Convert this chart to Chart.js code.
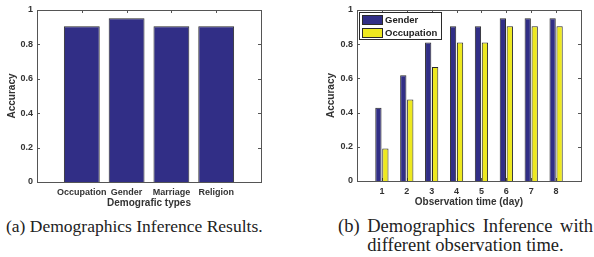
<!DOCTYPE html>
<html>
<head>
<meta charset="utf-8">
<script src="https://cdn.jsdelivr.net/npm/chart.js@4/dist/chart.umd.min.js"></script>
<style>
  html, body { margin: 0; padding: 0; background: #fff; }
  body { width: 594px; height: 257px; position: relative; overflow: hidden; }
  .box { position: absolute; top: 0; height: 215px; }
  .cap { position: absolute; font-family: "Liberation Serif", "Times New Roman", serif;
         font-size: 17.5px; color: #222; white-space: nowrap; line-height: 20px; }
</style>
</head>
<body>
<div class="box" style="left:0;width:297px"><canvas id="typesChart" width="297" height="215"></canvas></div>
<div class="box" style="left:300px;width:294px"><canvas id="timeChart" width="294" height="215"></canvas></div>
<div class="cap" style="left:6px;top:216px">(a) Demographics Inference Results.</div>
<div class="cap" style="left:338px;top:216px;width:255px;font-size:18.5px;text-align:justify;text-align-last:justify">(b) Demographics Inference with</div>
<div class="cap" style="left:338px;top:235px;width:255px;font-size:18.5px;text-align:center">different observation time.</div>
<script>
const demoTypes = ["Occupation", "Gender", "Marriage", "Religion"];
const demoAccuracy = [0.905, 0.952, 0.905, 0.905];

const days = ["1", "2", "3", "4", "5", "6", "7", "8"];
const genderAccuracy = [0.429, 0.619, 0.81, 0.905, 0.905, 0.952, 0.952, 0.952];
const occupationAccuracy = [0.19, 0.476, 0.667, 0.81, 0.81, 0.905, 0.905, 0.905];

const yTicks = [0, 0.2, 0.4, 0.6, 0.8, 1];

const NAVY = "#312e86";
const YELLOW = "#eee91f";
const EDGE = "#2a2a2a";
const AXIS = "#555";
const TEXT = "#333";

// matlab style box with inward ticks
const boxAxes = {
  id: "boxAxes",
  beforeDatasetsDraw(chart) {
    const { ctx, chartArea: a, scales } = chart;
    ctx.save();
    ctx.strokeStyle = AXIS;
    ctx.lineWidth = 1;
    ctx.beginPath();
    scales.y.ticks.forEach((t) => {
      const y = Math.round(scales.y.getPixelForValue(t.value)) + 0.5;
      ctx.moveTo(a.left, y); ctx.lineTo(a.left + 3, y);
      ctx.moveTo(a.right, y); ctx.lineTo(a.right - 3, y);
    });
    scales.x.ticks.forEach((t) => {
      const x = Math.round(scales.x.getPixelForValue(t.value)) + 0.5;
      ctx.moveTo(x, a.top); ctx.lineTo(x, a.top + 3);
      ctx.moveTo(x, a.bottom); ctx.lineTo(x, a.bottom - 3);
    });
    ctx.stroke();
    ctx.restore();
  },
  afterDatasetsDraw(chart) {
    const { ctx, chartArea: a } = chart;
    ctx.save();
    ctx.strokeStyle = AXIS;
    ctx.lineWidth = 1;
    ctx.strokeRect(Math.round(a.left) + 0.5, Math.round(a.top) + 0.5,
      Math.round(a.right - a.left), Math.round(a.bottom - a.top));
    ctx.restore();
  },
};

// legend box in the upper left of the plot
const insideLegend = {
  id: "insideLegend",
  afterDraw(chart) {
    const { ctx, chartArea: a } = chart;
    const x0 = Math.round(a.left) + 2, y0 = Math.round(a.top) + 2;
    ctx.save();
    ctx.fillStyle = "#fff";
    ctx.fillRect(x0, y0, 82, 27);
    ctx.strokeStyle = EDGE;
    ctx.lineWidth = 1;
    ctx.strokeRect(x0 + 0.5, y0 + 0.5, 82, 27);
    ctx.font = "bold 9.5px 'Liberation Sans', Arial, sans-serif";
    ctx.textBaseline = "middle";
    chart.data.datasets.forEach((ds, i) => {
      const sy = y0 + 3 + i * 13;
      ctx.fillStyle = ds.backgroundColor;
      ctx.fillRect(x0 + 3.5, sy + 0.5, 20, 9);
      ctx.strokeStyle = EDGE;
      ctx.strokeRect(x0 + 3.5, sy + 0.5, 20, 9);
      ctx.fillStyle = "#222";
      ctx.fillText(ds.label, x0 + 26, sy + 5.5);
    });
    ctx.restore();
  },
};

const tickFont = { family: "'Liberation Sans', Arial, sans-serif", size: 9, weight: "bold" };
const titleFont = { family: "'Liberation Sans', Arial, sans-serif", size: 10, weight: "bold" };

function yScale(width, titlePad) {
  return {
    min: 0,
    max: 1,
    afterBuildTicks: (s) => { s.ticks = yTicks.map((v) => ({ value: v })); },
    afterFit: (s) => { s.width = width; },
    border: { display: false },
    grid: { display: false, drawTicks: false },
    ticks: { font: tickFont, color: TEXT, padding: 4, callback: (v) => String(+v.toFixed(1)) },
    title: { display: true, text: "Accuracy", font: titleFont, color: TEXT, padding: { top: titlePad } },
  };
}

function xScale(labels, titleText) {
  return {
    type: "linear",
    offset: false,
    min: 0,
    max: labels.length + 1,
    afterBuildTicks: (s) => { s.ticks = labels.map((l, i) => ({ value: i + 1 })); },
    afterFit: (s) => { s.height = 33; },
    border: { display: false },
    grid: { display: false, drawTicks: false, offset: false },
    ticks: {
      font: tickFont, color: TEXT, padding: 5, autoSkip: false,
      maxRotation: 0, minRotation: 0,
      callback: (v) => labels[v - 1] || "",
    },
    title: { display: true, text: titleText, font: titleFont, color: TEXT, padding: { bottom: 6 } },
  };
}

const common = {
  responsive: false,
  animation: false,
  plugins: { legend: { display: false }, tooltip: { enabled: false } },
};

new Chart(document.getElementById("typesChart"), {
  type: "bar",
  data: {
    datasets: [{
      label: "Accuracy",
      data: demoAccuracy.map((v, i) => ({ x: i + 1, y: v })),
      backgroundColor: NAVY,
      borderColor: EDGE,
      borderWidth: 1,
      categoryPercentage: 0.8,
      barPercentage: 1,
    }],
  },
  options: {
    ...common,
    layout: { padding: { top: 10, right: 36, left: 0, bottom: 0 } },
    scales: { x: xScale(demoTypes, "Demografic types"), y: yScale(37, 6) },
  },
  plugins: [boxAxes],
});

new Chart(document.getElementById("timeChart"), {
  type: "bar",
  data: {
    datasets: [
      {
        label: "Gender",
        data: genderAccuracy.map((v, i) => ({ x: i + 1, y: v })),
        backgroundColor: NAVY,
      },
      {
        label: "Occupation",
        data: occupationAccuracy.map((v, i) => ({ x: i + 1, y: v })),
        backgroundColor: YELLOW,
      },
    ].map((d) => ({ ...d, borderColor: EDGE, borderWidth: 1, categoryPercentage: 0.56, barPercentage: 0.9 })),
  },
  options: {
    ...common,
    layout: { padding: { top: 10, right: 13, left: 0, bottom: 1 } },
    scales: { x: xScale(days, "Observation time (day)"), y: yScale(57, 25) },
  },
  plugins: [boxAxes, insideLegend],
});
</script>
</body>
</html>
